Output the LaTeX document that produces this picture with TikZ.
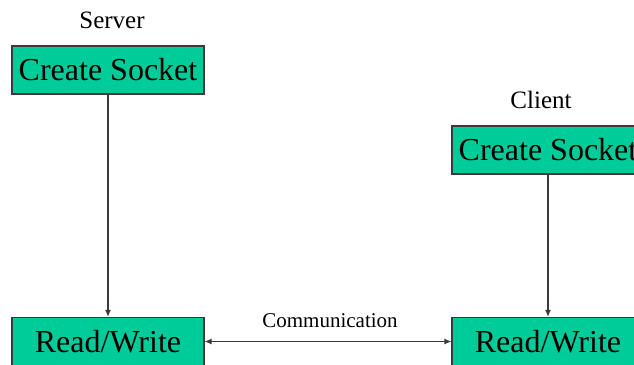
\documentclass[tikz,border=0pt]{standalone}
\usepackage{fontspec}
\setmainfont{Liberation Serif}
\usetikzlibrary{arrows.meta}
\definecolor{boxfill}{HTML}{00CC99}
\definecolor{edge}{HTML}{3A3A3A}
\tikzset{
  stepbox/.style={draw=edge, line width=1.2pt, fill=boxfill, minimum width=192pt,
    minimum height=48pt, inner sep=0pt, font=\rmfamily\fontsize{32}{38}\selectfont},
  rolelabel/.style={anchor=base, inner sep=0pt, font=\rmfamily\fontsize{25}{30}\selectfont},
  tip/.tip={Latex[length=7pt,width=6pt]},
  flow/.style={draw=edge, line width=1.2pt, -tip},
}
\begin{document}
\begin{tikzpicture}[x=1pt,y=-1pt]
  \useasboundingbox (0,0) rectangle (634,364);
  \clip (0,0) rectangle (634,364);
  % server side
  \node[rolelabel] (srvlabel) at (112,28) {Server};
  \node[stepbox] (srvcreate) at (108,70) {Create Socket};
  \node[stepbox] (srvrw) at (108,341.5) {Read/Write};
  % client side
  \node[rolelabel] (clilabel) at (541,108) {Client};
  \node[stepbox] (clicreate) at (548,150) {Create Socket};
  \node[stepbox] (clirw) at (548,341.5) {Read/Write};
  % connectors
  \draw[flow] (srvcreate.south) -- (srvrw.north);
  \draw[flow] (clicreate.south) -- (clirw.north);
  \draw[flow, tip-tip] (srvrw.east) -- (clirw.west);
  \node[anchor=base, inner sep=0pt, font=\rmfamily\fontsize{21}{25}\selectfont] (comm) at (330,327) {Communication};
\end{tikzpicture}
\end{document}
